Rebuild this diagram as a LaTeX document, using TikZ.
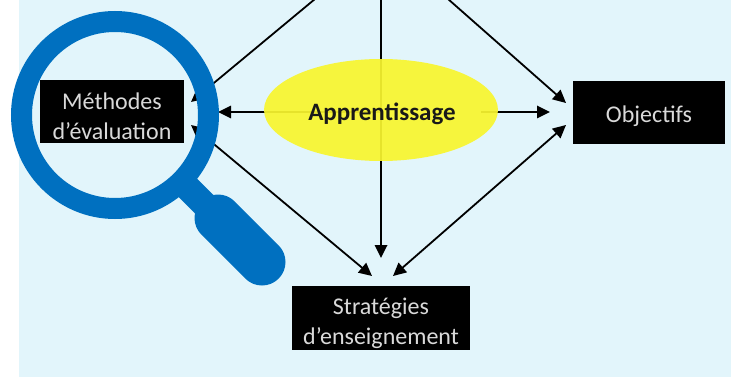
\documentclass[tikz,border=0pt]{standalone}
\usepackage{fontspec}
\setmainfont{Carlito}
\usetikzlibrary{arrows.meta,shapes.geometric}
\definecolor{bgblue}{HTML}{E2F5FB}
\definecolor{lensblue}{HTML}{0070C0}
\definecolor{sunny}{HTML}{F8F52F}
\tikzset{
  blackbox/.style={fill=black,draw=none,minimum height=63pt,inner sep=0pt},
  boxtext/.style={text=white!85!black,align=center,inner sep=0pt,font=\fontsize{24}{29.5}\selectfont},
  arrowline/.style={draw=black,line width=1.8pt,-{Triangle[length=13pt,width=12.5pt]}},
  twoway/.style={draw=black,line width=1.8pt,{Triangle[length=13pt,width=12.5pt]}-{Triangle[length=13pt,width=12.5pt]}},
}
\begin{document}
\begin{tikzpicture}[x=1pt,y=-1pt]
\useasboundingbox (0,0) rectangle (731,377);
\fill[white] (0,0) rectangle (731,377);
\fill[bgblue] (19,0) rectangle (731,377);
% free ends
\coordinate (tl) at (315,-1);
\coordinate (tm) at (381,-1);
\coordinate (tr) at (448,-1);
\coordinate (mUp) at (191,102);
\coordinate (mMid) at (218,112);
\coordinate (mLow) at (191,125);
\coordinate (oUp) at (566,103);
\coordinate (oMid) at (550,112);
\coordinate (oLow) at (566,125);
\coordinate (sMid) at (381,258);
\coordinate (sL) at (372,276);
\coordinate (sR) at (393,276);
\coordinate (ac) at (381,110);
\coordinate (ar) at (481,112);
% boxes
\node[blackbox,minimum width=144pt] (meth) at (112,112) {};
\node[boxtext] (methlabel) at (112,116.5) {Méthodes\\d’évaluation};
\node[blackbox,minimum width=152pt] (obj) at (649,112.5) {};
\node[boxtext] (objlabel) at (649,116) {Objectifs};
\node[blackbox,minimum width=178pt,minimum height=64pt] (strat) at (381,318) {};
\node[boxtext] (stratlabel) at (381,323.5) {Stratégies\\d’enseignement};
% connectors
\draw[arrowline] (tl) -- (mUp);
\draw[arrowline] (tr) -- (oUp);
\draw[arrowline] (tm) -- (sMid);
\draw[arrowline] (ac |- mMid) -- (mMid);
\draw[arrowline] (ar) -- (oMid);
\draw[twoway] (mLow) -- (sL);
\draw[twoway] (sR) -- (oLow);
% ellipse
\node[ellipse,fill=sunny,fill opacity=0.93,draw=none,minimum width=234pt,minimum height=102pt,inner sep=0pt] (app) at (ac) {};
\node[font=\fontsize{25}{28}\selectfont\bfseries,text=black!90] (applabel) at (382,113.5) {Apprentissage};
% magnifier
\draw[lensblue,line width=26pt] (185,185) -- (222,222);
\draw[lensblue,line width=47pt,line cap=round] (218,218) -- (262,262);
\draw[lensblue,line width=21pt] (115,115) circle (93.5);
\end{tikzpicture}
\end{document}
